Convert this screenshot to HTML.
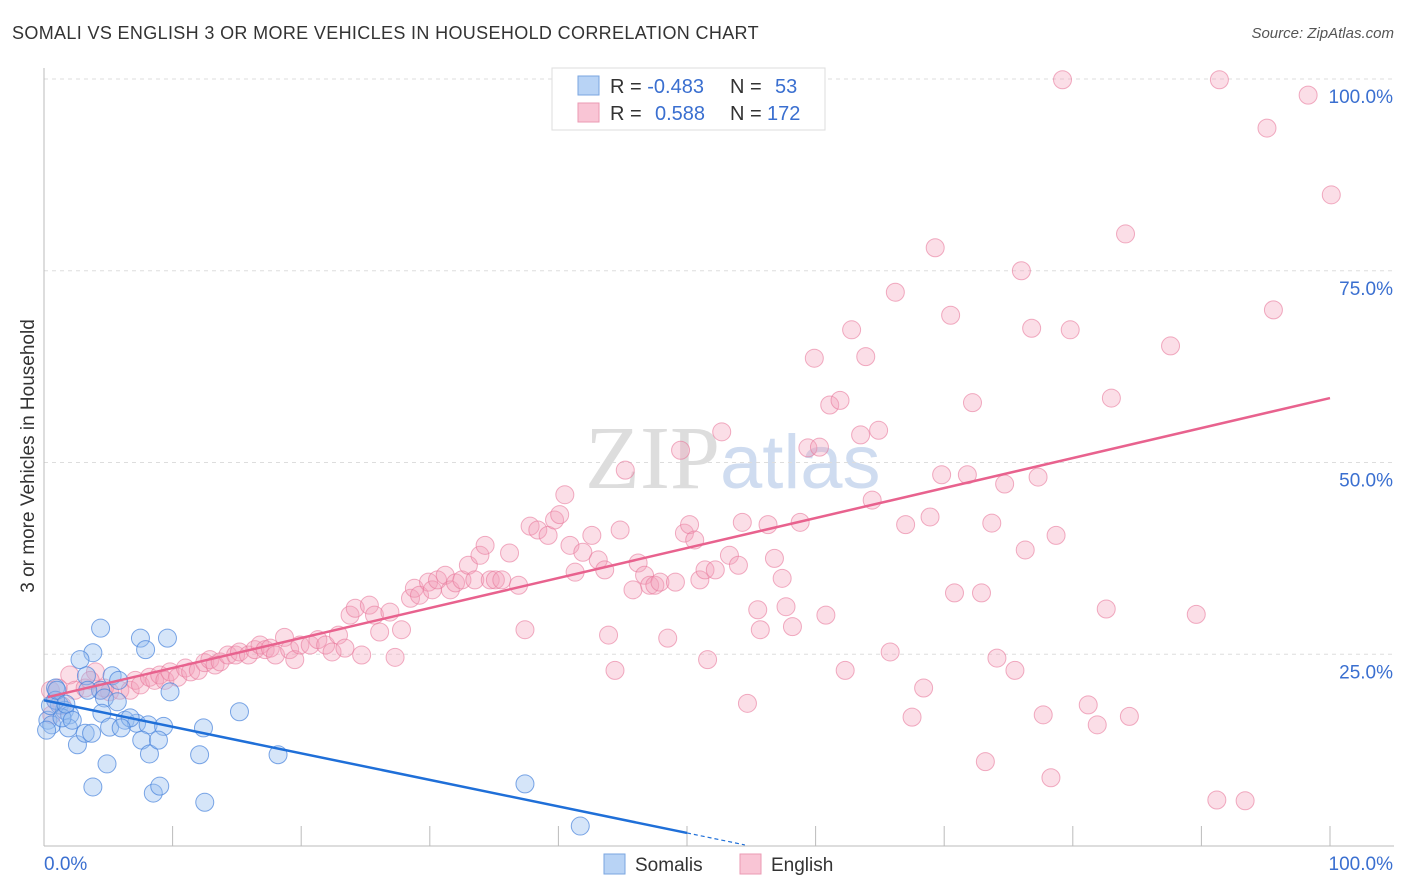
<!DOCTYPE html>
<html><head><meta charset="utf-8"><style>
body{margin:0;background:#fff;font-family:"Liberation Sans",sans-serif}
svg{display:block}
</style></head><body>
<svg id="chart" width="1406" height="892">
<text x="12" y="39" font-size="18" fill="#333" letter-spacing="0.35">SOMALI VS ENGLISH 3 OR MORE VEHICLES IN HOUSEHOLD CORRELATION CHART</text>
<text x="1394" y="38" font-size="15" fill="#555" font-style="italic" text-anchor="end">Source: ZipAtlas.com</text>
<text x="720" y="488" font-size="90" fill="#ddd" text-anchor="end" font-family="Liberation Serif,serif">ZIP</text>
<text x="720" y="488" font-size="76" fill="#cfdcf0">atlas</text>
<g id="grid"></g>
<g id="axes"></g>
<g id="pts"></g>
<g id="lines"></g>
<text transform="translate(34,456) rotate(-90)" font-size="19" fill="#333" text-anchor="middle">3 or more Vehicles in Household</text>
<g>
<rect x="552" y="68" width="273" height="62" fill="#fff" stroke="#ddd"/>
<rect x="578" y="76" width="21" height="19" fill="#b8d3f5" stroke="#7aa6e0"/>
<rect x="578" y="103" width="21" height="19" fill="#f9c5d5" stroke="#eb9ab3"/>
<text x="610" y="93" font-size="20" fill="#333">R = <tspan fill="#3a6fd0">-0.483</tspan><tspan x="730">N = </tspan><tspan x="775" fill="#3a6fd0">53</tspan></text>
<text x="610" y="120" font-size="20" fill="#333">R = <tspan x="655" fill="#3a6fd0">0.588</tspan><tspan x="730">N = </tspan><tspan x="767" fill="#3a6fd0">172</tspan></text>
</g>
<g>
<rect x="604" y="854" width="21" height="20" fill="#b8d3f5" stroke="#7aa6e0"/>
<text x="635" y="871" font-size="19" fill="#333">Somalis</text>
<rect x="740" y="854" width="21" height="20" fill="#f9c5d5" stroke="#eb9ab3"/>
<text x="771" y="871" font-size="19" fill="#333">English</text>
</g>
</svg>
<script>
const blueX=[.9,1.2,1.6,2.0,.3,.6,4.4,3.8,2.8,3.3,5.3,5.8,7.5,7.9,9.6,4.4,4.7,5.7,.9,1.9,2.6,3.2,3.7,4.5,5.1,6.3,7.2,8.1,9.3,9.8,7.6,8.2,8.9,12.4,12.1,4.9,3.8,8.5,9.0,12.5,15.2,18.2,37.4,41.7,.5,1.4,2.2,6.7,6.0,.2,1.0,3.4,1.7];
const blueY=[20.6,18.4,17.7,17.1,16.4,15.8,28.4,25.2,24.3,22.2,22.2,21.6,27.1,25.6,27.1,20.3,19.3,18.8,19.0,15.4,13.2,14.7,14.7,17.3,15.5,16.4,16.0,15.8,15.6,20.1,13.8,12.0,13.8,15.4,11.9,10.7,7.7,6.9,7.8,5.7,17.5,11.9,8.1,2.6,18.3,16.7,16.4,16.7,15.4,15.1,20.3,20.3,18.5];
const pinkX=[.5,.9,2.0,2.4,3.2,4.0,4.4,5.1,5.9,6.7,7.1,7.5,8.2,8.6,9.0,9.4,9.8,10.4,11.0,11.4,12.0,12.5,12.9,13.3,13.7,14.3,14.9,15.2,15.9,16.4,16.8,17.2,17.6,18.0,18.7,19.1,19.5,19.9,20.7,21.3,21.9,22.4,22.9,23.4,23.8,24.2,24.7,25.3,25.7,26.1,26.9,27.3,27.8,28.5,28.8,29.2,29.9,30.2,30.6,31.2,31.6,32.0,32.5,33.0,33.5,33.9,34.3,34.7,35.1,35.6,36.2,36.9,37.4,37.8,38.4,39.2,39.7,40.1,40.5,40.9,41.3,41.9,42.6,43.1,43.6,43.9,44.4,44.8,45.2,45.8,46.2,46.7,47.1,47.5,47.9,48.5,49.1,49.5,49.8,50.2,50.6,51.0,51.4,51.6,52.2,52.7,53.3,54.0,54.3,54.7,55.5,55.7,56.3,56.8,57.4,57.7,58.2,58.8,59.4,59.9,60.3,60.8,61.1,61.9,62.3,62.8,63.5,63.9,64.4,64.9,65.8,66.2,67.0,67.5,68.4,68.9,69.3,69.8,70.5,70.8,71.8,72.2,72.9,73.2,73.7,74.1,74.7,75.5,76.0,76.3,76.8,77.3,77.7,78.3,78.7,79.2,79.8,81.2,81.9,82.6,83.0,84.1,84.4,87.6,89.6,91.2,91.4,93.4,95.1,95.6,98.3,100.1,1.1,1.4,3.6,4.7,.6];
const pinkY=[20.3,19.0,22.3,20.3,20.6,22.7,20.3,20.1,20.3,20.3,21.6,21.0,22.0,21.6,22.3,21.6,22.7,22.0,23.2,22.7,22.9,23.9,24.3,23.6,24.0,24.9,24.9,25.3,24.9,25.6,26.2,25.6,25.8,24.9,27.2,25.6,24.3,26.2,26.2,26.9,26.2,25.3,27.5,25.8,30.1,31.0,24.9,31.4,30.1,27.9,30.5,24.6,28.2,32.3,33.6,32.7,34.4,33.4,34.7,35.3,33.4,34.3,34.7,36.6,34.7,37.9,39.2,34.7,34.7,34.7,38.2,34.0,28.2,41.7,41.2,40.5,42.5,43.2,45.8,39.2,35.7,38.3,40.5,37.3,36.0,27.5,22.9,41.2,49.0,33.4,36.9,35.3,34.0,34.0,34.4,27.1,34.4,51.6,40.8,41.9,39.9,34.7,36.0,24.3,36.0,54.0,37.9,36.6,42.2,18.6,30.8,28.2,41.9,37.5,34.9,31.2,28.6,42.2,51.9,63.6,52.0,30.1,57.5,58.1,22.9,67.3,53.6,63.8,45.1,54.2,25.3,72.2,41.9,16.8,20.6,42.9,78.0,48.4,69.2,33.0,48.4,57.8,33.0,11.0,42.1,24.5,47.2,22.9,75.0,38.6,67.5,48.1,17.1,8.9,40.5,99.9,67.3,18.4,15.8,30.9,58.4,79.8,16.9,65.2,30.2,6.0,99.9,5.9,93.6,69.9,97.9,84.9,20.6,18.3,21.6,20.6,17.1];
const yTicks=[25,50,75,100];
const xTicks=[0,10,20,30,40,50,60,70,80,90,100];
const blueFit=[19.0,-0.346];
const pinkFit=[19.3,0.391];
const X=v=>44+v*12.86, Y=v=>846-v*7.67;
const NS='http://www.w3.org/2000/svg';
function mk(tag,attrs,parent){const e=document.createElementNS(NS,tag);for(const k in attrs)e.setAttribute(k,attrs[k]);parent.appendChild(e);return e;}
const grid=document.getElementById('grid'),axes=document.getElementById('axes'),pts=document.getElementById('pts'),lines=document.getElementById('lines');
yTicks.forEach(t=>{
 const l=mk('line',{x1:44,x2:1394,y1:Y(t),y2:Y(t),stroke:'#ddd','stroke-dasharray':'4,4'},grid);
 
 
 const tx=mk('text',{x:1393,y:Y(t)+24,'font-size':19,fill:'#3a6fd0','text-anchor':'end'},grid);
 tx.textContent=t.toFixed(1)+'%';
 
 
});
const ya=mk('line',{x1:44,x2:44,y1:68,y2:846,stroke:'#bbb'},axes);


const xa=mk('line',{x1:44,x2:1394,y1:846,y2:846,stroke:'#bbb'},axes);


xTicks.forEach(t=>{
 const l=mk('line',{x1:X(t),x2:X(t),y1:826,y2:846,stroke:'#bbb'},axes);
 
 
});
[[0,'0.0%','start',44],[100,'100.0%','end',1393]].forEach(a=>{
 const tx=mk('text',{x:a[3],y:870,'font-size':19,fill:'#3a6fd0','text-anchor':a[2]},axes);
 tx.textContent=a[1];
 
 
});
pinkX.forEach((x,i)=>{
 const c=mk('circle',{cx:X(x),cy:Y(pinkY[i]),r:9,fill:'rgba(244,160,186,0.35)',stroke:'rgba(232,120,155,0.6)','stroke-width':1},pts);
 
 
});
blueX.forEach((x,i)=>{
 const c=mk('circle',{cx:X(x),cy:Y(blueY[i]),r:9,fill:'rgba(150,190,240,0.4)',stroke:'rgba(70,130,220,0.7)','stroke-width':1},pts);
 
 
});
const bl=mk('line',{x1:X(0),y1:Y(blueFit[0]),x2:X(50),y2:Y(blueFit[0]+blueFit[1]*50),stroke:'#1f6fd8','stroke-width':2.5},lines);


const bd=mk('line',{x1:X(50),y1:Y(blueFit[0]+blueFit[1]*50),x2:X(54.5),y2:Y(blueFit[0]+blueFit[1]*54.5),stroke:'#1f6fd8','stroke-width':1.2,'stroke-dasharray':'4,3'},lines);


const pl=mk('line',{x1:X(0.3),y1:Y(pinkFit[0]+pinkFit[1]*0.3),x2:X(100),y2:Y(pinkFit[0]+pinkFit[1]*100),stroke:'#e8628e','stroke-width':2.5},lines);


</script>
</body></html>
